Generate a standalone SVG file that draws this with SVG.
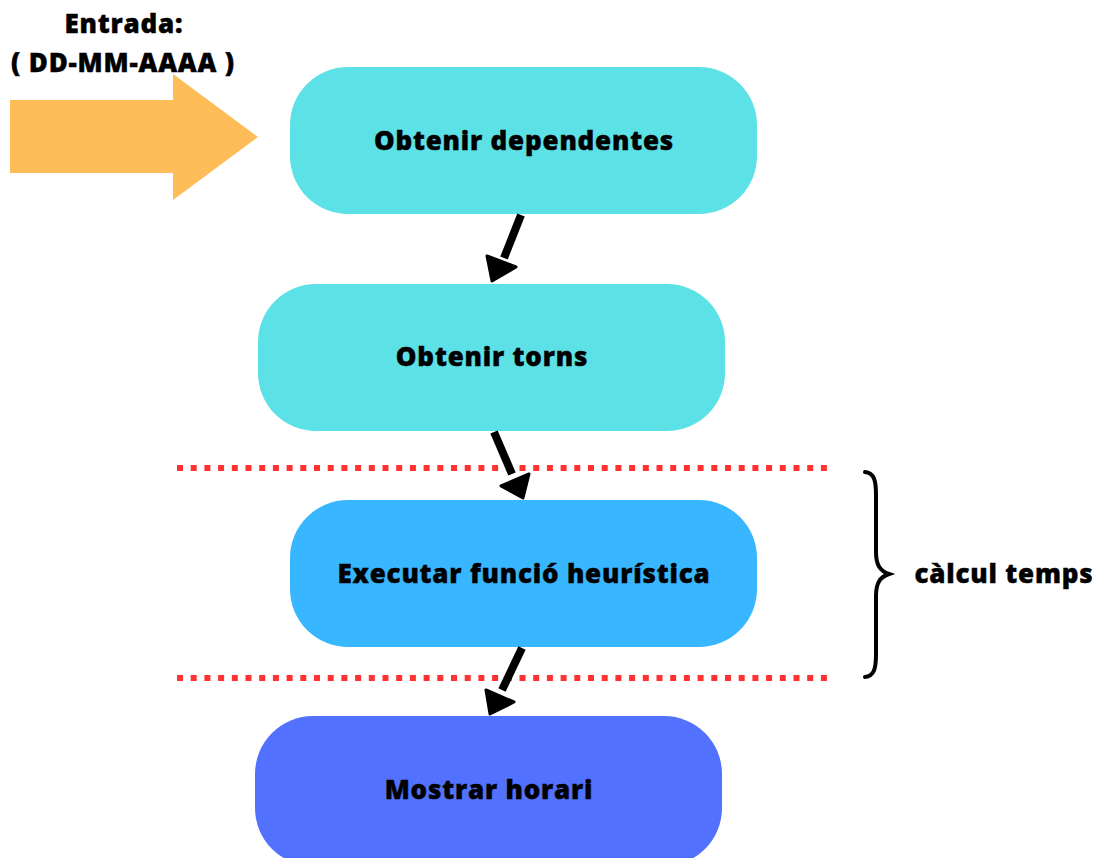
<svg xmlns="http://www.w3.org/2000/svg" width="1101" height="858" viewBox="0 0 1101 858">
  <defs>
    <style>
      .lbl { font-family: "Open Sans", "Liberation Sans", sans-serif; font-weight: 800; font-size: 26px; letter-spacing: 0.8px; fill: #000; stroke: #000; stroke-width: 0.4; text-anchor: middle; }
      .box { stroke: none; }
      .c1 { fill: #5ce1e6; }
      .c2 { fill: #38b6ff; }
      .c3 { fill: #5271ff; }
      .link { stroke: #000; stroke-width: 8; fill: none; }
      .head { fill: #000; stroke: #000; stroke-width: 3; stroke-linejoin: round; }
      .sep { stroke: #ff3131; stroke-width: 6; stroke-dasharray: 6 7.7; fill: none; }
    </style>
  </defs>
  <rect width="1101" height="858" fill="#fff"/>

  <!-- input label and block arrow -->
  <g id="input">
    <text class="lbl" x="124" y="33">Entrada:</text>
    <text class="lbl" x="123" y="72">( DD-MM-AAAA )</text>
    <polygon fill="#ffbd59" points="10,100 173,100 173,74 258,137 173,200 173,173 10,173"/>
  </g>

  <g id="node-dependents">
    <rect class="box c1" x="290" y="67" width="467" height="147" rx="58"/>
    <text class="lbl" x="524" y="150">Obtenir dependentes</text>
  </g>

  <g id="node-torns">
    <rect class="box c1" x="258" y="284" width="467" height="147" rx="58"/>
    <text class="lbl" x="492" y="366">Obtenir torns</text>
  </g>

  <g id="node-heuristica">
    <rect class="box c2" x="290" y="500" width="467" height="147" rx="58"/>
    <text class="lbl" x="524" y="583">Executar funció heurística</text>
  </g>

  <g id="node-horari">
    <rect class="box c3" x="255" y="716" width="467" height="150" rx="58"/>
    <text class="lbl" x="489" y="799">Mostrar horari</text>
  </g>

  <!-- timed section markers -->
  <g id="section">
    <line class="sep" x1="177" y1="468" x2="832" y2="468"/>
    <line class="sep" x1="177" y1="678" x2="832" y2="678"/>
    <path d="M865,472 C874,473 876,480 876,495 L876,552 C876,565 880,571 889,574 C880,577 876,583 876,596 L876,654 C876,669 874,676 865,677" fill="none" stroke="#000" stroke-width="4" stroke-linecap="round"/>
    <text class="lbl" x="1004" y="583">càlcul temps</text>
  </g>

  <g id="connectors">
    <line class="link" x1="521" y1="215" x2="504" y2="258"/>
    <polygon class="head" points="492,281 487,256 516,267"/>
    <line class="link" x1="494" y1="432" x2="512" y2="474"/>
    <polygon class="head" points="523,498 529,474 501,486"/>
    <line class="link" x1="522" y1="648" x2="502" y2="690"/>
    <polygon class="head" points="490,714 486,690 514,702"/>
  </g>
</svg>
